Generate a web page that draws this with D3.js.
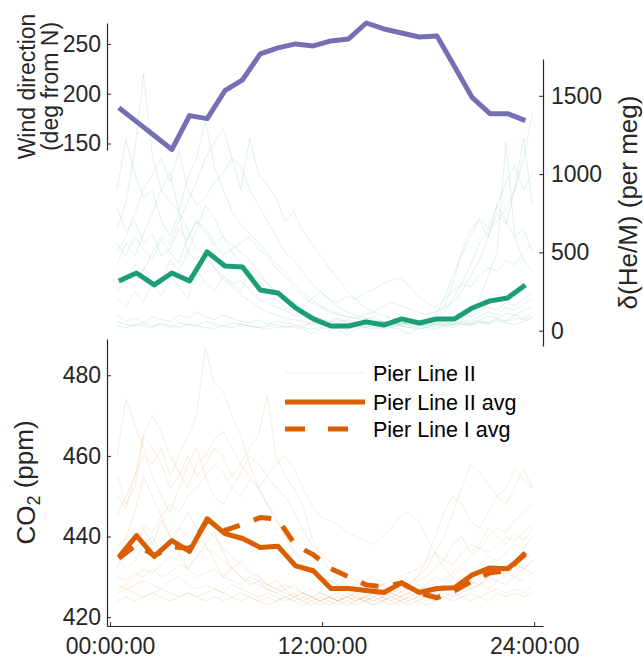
<!DOCTYPE html>
<html>
<head>
<meta charset="utf-8">
<script src="https://cdn.jsdelivr.net/npm/d3@7"></script>
<style>
  body { margin: 0; background: #fff; }
  svg { display: block; font-family: "Liberation Sans", Arial, Helvetica, sans-serif; }
</style>
</head>
<body>
<div class="container"></div>
<script>
// hourly averages sit on the half hour, single days every 30 min
const avgHours = d3.range(0.5, 24, 1);
const dayHours = d3.range(0.4, 24, 0.5);

// wind direction (deg from N), hourly average
const windAvg = [186, 172, 158, 144, 178, 175, 203, 214, 240, 246, 250, 248,
  253, 255, 271, 265, 261, 257, 258, 227, 196, 180, 180, 173];

// d(He/M) (per meg), hourly average
const heAvg = [317, 368, 292, 368, 317, 503, 413, 407, 260, 241, 145, 75,
  30, 30, 56, 36, 75, 49, 75, 75, 145, 190, 209, 292];

// d(He/M) single days
const heDays = [
  [650, 820, 1150, 1640, 1120, 900, 1010, 760, 640, 520, 480, 400,
   330, 280, 230, 190, 150, 120, 100, 80, 70, 60, 40, 50,
   40, 30, 40, 30, 20, 30, 40, 30, 40, 30, 20, 30,
   40, 30, 40, 50, 40, 60, 50, 70, 60, 80, 70, 90],
  [420, 560, 480, 620, 750, 900, 820, 760, 980, 1100, 1345, 1050,
   900, 760, 680, 620, 560, 500, 430, 380, 300, 240, 200, 160,
   130, 110, 90, 80, 70, 90, 60, 50, 60, 40, 50, 60,
   80, 120, 200, 300, 420, 560, 640, 700, 780, 900, 1100, 1390],
  [300, 350, 420, 380, 500, 600, 550, 700, 820, 950, 1100, 1200,
   1290, 1100, 900, 1230, 1000, 930, 850, 700, 760, 640, 560, 480,
   400, 330, 260, 200, 150, 120, 100, 80, 70, 60, 50, 60,
   70, 60, 80, 100, 90, 120, 150, 130, 180, 160, 200, 240],
  [780, 640, 700, 560, 620, 480, 520, 650, 580, 700, 620, 540,
   600, 500, 430, 380, 320, 260, 200, 150, 120, 100, 80, 70,
   60, 80, 60, 50, 40, 50, 60, 40, 50, 40, 60, 70,
   90, 150, 300, 500, 650, 700, 600, 750, 680, 900, 1230, 800],
  [100, 60, 80, 50, 90, 70, 60, 100, 80, 120, 90, 70,
   100, 80, 60, 50, 70, 40, 60, 50, 40, 30, 50, 40,
   30, 40, 20, 30, 40, 30, 20, 40, 30, 20, 30, 40,
   50, 40, 60, 80, 120, 200, 350, 500, 1200, 600, 450, 380],
  [60, 40, 30, 50, 30, 40, 20, 50, 40, 30, 60, 40,
   30, 50, 40, 30, 20, 30, 40, 20, 30, 20, 10, 20,
   30, 20, 10, 20, 30, 20, 10, 20, 30, 20, 10, 20,
   30, 40, 30, 50, 40, 60, 50, 80, 60, 100, 80, 120],
  [250, 320, 280, 400, 350, 300, 450, 380, 500, 650, 800, 720,
   600, 550, 500, 450, 380, 300, 250, 200, 180, 150, 200, 250,
   200, 180, 220, 200, 240, 260, 300, 320, 335, 290, 220, 180,
   150, 200, 250, 300, 280, 350, 400, 380, 450, 420, 500, 560],
  [900, 1220, 1000, 850, 900, 700, 600, 750, 500, 450, 520, 400,
   350, 300, 320, 260, 200, 180, 150, 130, 100, 90, 70, 60,
   50, 70, 50, 40, 60, 50, 40, 30, 50, 40, 30, 40,
   50, 60, 40, 70, 60, 90, 120, 100, 150, 130, 170, 200],
  [200, 150, 250, 180, 300, 220, 350, 280, 200, 400, 300, 250,
   350, 300, 250, 400, 350, 300, 250, 200, 150, 120, 100, 80,
   60, 50, 70, 60, 50, 40, 60, 50, 40, 60, 50, 70,
   100, 200, 350, 480, 600, 720, 650, 800, 700, 600, 650, 500],
  [500, 600, 750, 900, 1000, 1100, 950, 1150, 900, 800, 850, 950,
   1000, 1100, 1050, 900, 800, 700, 600, 500, 450, 380, 300, 250,
   200, 150, 120, 100, 80, 70, 60, 50, 40, 50, 40, 30,
   40, 50, 40, 60, 50, 70, 90, 80, 110, 100, 130, 150],
  [30, 20, 40, 30, 20, 50, 30, 20, 40, 30, 20, 10,
   30, 20, 40, 30, 20, 10, 20, 30, 20, 10, -20, 10,
   20, 10, -30, 10, 20, 10, 30, 20, 10, -20, 10, 20,
   10, 30, 20, 40, 30, 50, 40, 60, 50, 40, 60, 80],
  [550, 480, 600, 520, 450, 580, 500, 430, 600, 700, 650, 560,
   480, 520, 560, 600, 520, 480, 400, 350, 280, 220, 180, 150,
   120, 100, 90, 80, 100, 120, 150, 180, 160, 140, 120, 100,
   120, 150, 180, 250, 350, 450, 600, 800, 950, 1050, 900, 1000]
];

// CO2 (ppm), hourly averages
const co2AvgII = [434.9, 440.2, 435.1, 439.0, 436.3, 444.4, 440.7, 439.5, 437.3, 437.6, 432.7, 431.5,
  427.1, 427.1, 426.6, 426.1, 428.5, 426.1, 427.1, 427.3, 430.5, 432.2, 432.0, 435.6];
const co2AvgI = [434.6, 438.0, 435.3, 437.5, 437.0, 444.0, 441.5, 443.0, 444.7, 444.3, 437.8, 435.5,
  432.0, 430.0, 428.0, 427.5, 428.5, 426.0, 424.8, 426.5, 429.0, 431.0, 431.5, 436.0];

// CO2 single days, Pier Line II
const co2Days = [
  [445, 450, 455, 460, 458, 462, 455, 460, 465, 470, 487, 478,
   476, 470, 465, 458, 452, 448, 445, 440, 436, 433, 431, 430,
   429, 428, 427, 428, 427, 426, 427, 426, 425, 426, 425, 426,
   427, 428, 430, 432, 431, 433, 435, 434, 436, 438, 437, 440],
  [460, 474, 468, 462, 455, 450, 446, 452, 458, 462, 455, 450,
   448, 452, 456, 460, 458, 455, 452, 450, 446, 442, 438, 436,
   434, 432, 430, 429, 428, 427, 428, 427, 426, 427, 428, 427,
   426, 428, 427, 429, 428, 430, 431, 432, 430, 433, 432, 434],
  [455, 448, 452, 465, 470, 466, 460, 456, 452, 458, 460, 464,
   466, 462, 458, 455, 452, 448, 444, 440, 437, 434, 432, 430,
   429, 428, 427, 428, 429, 430, 428, 429, 430, 431, 432, 434,
   436, 440, 446, 452, 458, 456, 453, 450, 448, 452, 457, 452],
  [450, 447, 455, 465, 462, 458, 452, 455, 460, 455, 458, 462,
   460, 455, 458, 462, 465, 475, 460, 455, 452, 448, 440, 435,
   432, 430, 428, 427, 426, 427, 428, 426, 425, 426, 427, 426,
   425, 427, 428, 430, 429, 431, 430, 432, 433, 431, 434, 436],
  [438, 436, 440, 443, 441, 445, 448, 446, 450, 452, 455, 458,
   456, 452, 450, 454, 452, 455, 458, 460, 457, 452, 448, 445,
   444, 443, 441, 440, 439, 438, 440, 442, 445, 446, 444, 440,
   436, 432, 430, 428, 427, 428, 430, 429, 431, 430, 432, 431],
  [437, 440, 436, 442, 438, 444, 440, 436, 432, 435, 438, 434,
   430, 432, 434, 432, 430, 428, 427, 426, 425, 426, 425, 424,
   425, 424, 425, 426, 425, 424, 425, 426, 427, 428, 430, 434,
   440, 446, 450, 448, 444, 442, 446, 450, 452, 457, 454, 452],
  [430, 429, 431, 430, 432, 430, 431, 433, 432, 430, 431, 432,
   430, 429, 428, 430, 429, 428, 427, 428, 427, 426, 427, 426,
   425, 426, 425, 424, 425, 426, 425, 424, 425, 424, 425, 426,
   425, 427, 428, 427, 429, 428, 430, 432, 431, 433, 432, 434],
  [428, 427, 428, 429, 428, 427, 429, 430, 428, 427, 428, 427,
   426, 428, 427, 426, 425, 426, 425, 424, 425, 424, 423, 424,
   425, 424, 423, 424, 425, 424, 425, 424, 423, 424, 425, 424,
   425, 426, 425, 426, 427, 428, 427, 429, 428, 430, 429, 431],
  [426, 427, 426, 425, 426, 427, 426, 425, 426, 425, 426, 427,
   426, 425, 426, 425, 424, 425, 424, 425, 424, 423, 424, 423,
   424, 425, 424, 423, 424, 425, 424, 423, 424, 425, 424, 425,
   424, 425, 426, 425, 426, 425, 426, 427, 426, 427, 426, 428],
  [424, 425, 424, 425, 426, 425, 424, 425, 426, 425, 424, 425,
   424, 425, 424, 425, 424, 423, 424, 425, 424, 425, 424, 425,
   424, 423, 424, 425, 424, 423, 424, 425, 424, 423, 424, 423,
   424, 425, 424, 425, 424, 425, 424, 426, 425, 426, 425, 426],
  [435, 432, 434, 438, 440, 436, 438, 442, 440, 438, 442, 440,
   437, 435, 433, 431, 430, 428, 429, 427, 428, 426, 425, 426,
   425, 424, 425, 426, 424, 425, 426, 425, 426, 428, 430, 432,
   436, 434, 438, 440, 436, 438, 442, 440, 438, 441, 439, 442],
  [427, 428, 430, 432, 431, 433, 435, 434, 432, 435, 437, 436,
   434, 432, 430, 429, 428, 427, 426, 427, 425, 426, 425, 424,
   425, 424, 426, 425, 424, 423, 424, 425, 424, 425, 426, 428,
   430, 429, 431, 433, 435, 437, 436, 438, 440, 439, 441, 443],
  [432, 440, 446, 455, 450, 445, 440, 442, 446, 442, 438, 441,
   436, 432, 430, 428, 429, 427, 426, 425, 426, 424, 425, 424,
   423, 424, 425, 424, 425, 426, 425, 427, 428, 427, 429, 430,
   432, 434, 433, 436, 438, 437, 440, 442, 441, 444, 446, 448]
];

// ticks and legend
const windTicks = [150, 200, 250];
const heTicks = [0, 500, 1000, 1500];
const co2Ticks = [420, 440, 460, 480];
const timeTicks = [0, 12, 24];
const timeLabels = ["00:00:00", "12:00:00", "24:00:00"];
const legendLabels = ["Pier Line II", "Pier Line II avg", "Pier Line I avg"];

const purple = "#7570b3", green = "#1b9e77", orange = "#d95f02", ink = "#262626";
const W = 643, H = 662;

const svg = d3.select(".container").append("svg")
  .attr("width", W).attr("height", H);

// scales
const x = d3.scaleLinear().domain([-0.17, 24.5]).range([107, 543]);
const yWind = d3.scaleLinear().domain([143.5, 271]).range([150, 23]);
const yHe = d3.scaleLinear().domain([-98, 1735]).range([346, 59]);
const yCo2 = d3.scaleLinear().domain([417.8, 489]).range([626, 339]);

function lineFor(y, hours) {
  return d3.line().x((d, i) => x(hours[i])).y(d => y(d));
}

// thin single-day lines
svg.append("g").selectAll("path").data(heDays).join("path")
  .attr("d", lineFor(yHe, dayHours))
  .attr("fill", "none").attr("stroke", green)
  .attr("stroke-opacity", 0.2).attr("stroke-width", 0.7);

svg.append("g").selectAll("path").data(co2Days).join("path")
  .attr("d", lineFor(yCo2, dayHours))
  .attr("fill", "none").attr("stroke", orange)
  .attr("stroke-opacity", 0.18).attr("stroke-width", 0.7);

// averages
function thick(data, y, color, dash) {
  svg.append("path").datum(data)
    .attr("d", lineFor(y, avgHours))
    .attr("fill", "none").attr("stroke", color)
    .attr("stroke-width", 5).attr("stroke-linejoin", "round")
    .attr("stroke-dasharray", dash || null);
}
thick(windAvg, yWind, purple);
thick(heAvg, yHe, green);
thick(co2AvgI, yCo2, orange, "18,15");
thick(co2AvgII, yCo2, orange);

// axes
function styleAxis(g) {
  g.select(".domain").attr("stroke", ink).attr("stroke-width", 1.2);
  g.selectAll(".tick line").attr("stroke", ink);
  g.selectAll(".tick text").attr("fill", ink).style("font-size", "23px");
}

svg.append("g").attr("transform", "translate(107,0)")
  .call(d3.axisLeft(yWind).tickValues(windTicks).tickSizeInner(-4).tickSizeOuter(0).tickPadding(6))
  .call(styleAxis);

svg.append("g").attr("transform", "translate(543,0)")
  .call(d3.axisRight(yHe).tickValues(heTicks).tickFormat(d3.format("d"))
    .tickSizeInner(-4).tickSizeOuter(0).tickPadding(8))
  .call(styleAxis);

svg.append("g").attr("transform", "translate(107,0)")
  .call(d3.axisLeft(yCo2).tickValues(co2Ticks).tickSizeInner(-4).tickSizeOuter(0).tickPadding(6))
  .call(styleAxis);

svg.append("g").attr("transform", "translate(0,626)")
  .call(d3.axisBottom(x).tickValues(timeTicks).tickFormat((d, i) => timeLabels[i])
    .tickSizeInner(-4).tickSizeOuter(0).tickPadding(12))
  .call(styleAxis);

// axis titles
const windTitle = svg.append("text")
  .attr("transform", `translate(0,${(23 + 150) / 2}) rotate(-90)`)
  .attr("text-anchor", "middle").attr("fill", ink).style("font-size", "23px");
windTitle.append("tspan").attr("x", 0).attr("y", 35).text("Wind direction");
windTitle.append("tspan").attr("x", 0).attr("y", 58).text("(deg from N)");

const co2Title = svg.append("text")
  .attr("transform", `translate(35,${(339 + 626) / 2}) rotate(-90)`)
  .attr("text-anchor", "middle").attr("fill", ink).style("font-size", "26px");
co2Title.append("tspan").text("CO");
co2Title.append("tspan").attr("dy", "0.3em").style("font-size", "18px").text("2");
co2Title.append("tspan").attr("dy", "-0.3em").text(" (ppm)");

svg.append("text")
  .attr("transform", `translate(637,${(59 + 346) / 2}) rotate(-90)`)
  .attr("text-anchor", "middle").attr("fill", ink).style("font-size", "26px")
  .text("δ(He/M) (per meg)");

// legend
const legend = svg.append("g");
const legendRows = [
  { y: 373, width: 0.7, opacity: 0.18, dash: null },
  { y: 402, width: 5, opacity: 1, dash: null },
  { y: 429, width: 5, opacity: 1, dash: "20,23" }
];
legendRows.forEach((r, i) => {
  legend.append("line")
    .attr("x1", 285).attr("x2", 365).attr("y1", r.y).attr("y2", r.y)
    .attr("stroke", orange).attr("stroke-width", r.width)
    .attr("stroke-opacity", r.opacity).attr("stroke-dasharray", r.dash);
  legend.append("text")
    .attr("x", 373).attr("y", r.y).attr("dy", "0.35em")
    .attr("fill", "#000").style("font-size", "21.5px")
    .text(legendLabels[i]);
});
</script>
</body>
</html>
